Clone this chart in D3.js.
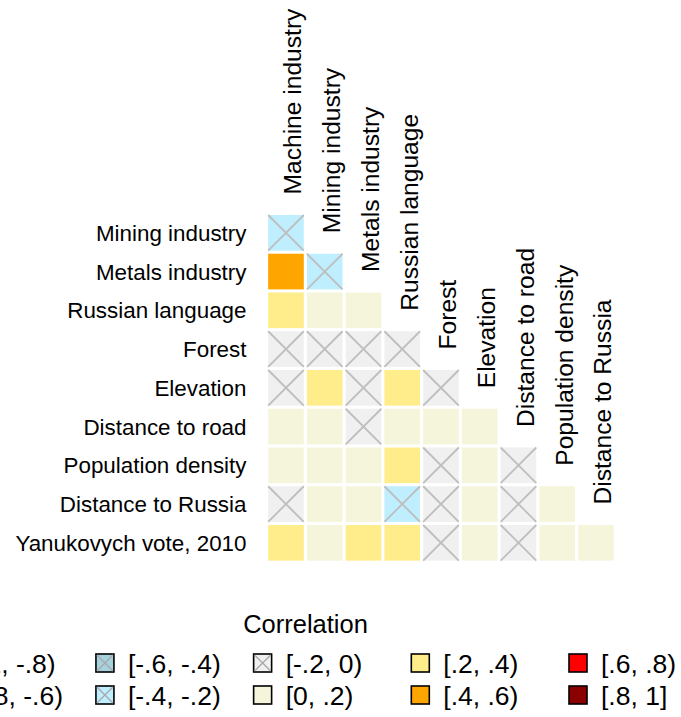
<!DOCTYPE html>
<html lang="en">
<head>
  <meta charset="utf-8">
  <title>Correlation matrix</title>
  <script src="https://d3js.org/d3.v7.min.js"></script>
  <style>
    body { margin: 0; background: #fff; }
    .chart text { font-family: "Liberation Sans", Arial, sans-serif; fill: #000; }
  </style>
</head>
<body>
  <div class="chart" id="chart"></div>

  <script>
    "use strict"

    // variables, columns along the top and rows down the side
    var cols = ["Machine industry", "Mining industry", "Metals industry", "Russian language",
                "Forest", "Elevation", "Distance to road", "Population density", "Distance to Russia"];
    var rows = ["Mining industry", "Metals industry", "Russian language", "Forest", "Elevation",
                "Distance to road", "Population density", "Distance to Russia", "Yanukovych vote, 2010"];

    // lower triangle of the correlations (row i has i+1 values), estimated from the bins
    var corr = [
      [-0.30],
      [ 0.50, -0.30],
      [ 0.30,  0.10,  0.10],
      [-0.10, -0.10, -0.10, -0.10],
      [-0.10,  0.30, -0.10,  0.30, -0.10],
      [ 0.10,  0.10, -0.10,  0.10,  0.10,  0.10],
      [ 0.10,  0.10,  0.10,  0.30, -0.10,  0.10, -0.10],
      [-0.10,  0.10,  0.10, -0.30, -0.10,  0.10, -0.10,  0.10],
      [ 0.30,  0.10,  0.30,  0.30, -0.10,  0.10, -0.10,  0.10,  0.10]
    ];

    // colour bins
    var binEdges  = [-0.8, -0.6, -0.4, -0.2, 0, 0.2, 0.4, 0.6, 0.8];
    var binLabels = ["[-1, -.8)", "[-.8, -.6)", "[-.6, -.4)", "[-.4, -.2)", "[-.2, 0)",
                     "[0, .2)", "[.2, .4)", "[.4, .6)", "[.6, .8)", "[.8, 1]"];
    var binColors = ["#00008B", "#1E90FF", "#A6D2DE", "#BFEFFF", "#F0F0F0",
                     "#F5F5DC", "#FFEC8B", "#FFA500", "#FF0000", "#8B0000"];

    var W = 681, H = 717;
    var svg = d3.select("#chart").append("svg")
      .attr("width", W).attr("height", H);

    var color = d3.scaleThreshold().domain(binEdges).range(binColors);

    var x = d3.scaleBand().domain(cols).range([266.6, 615.35])
      .paddingInner(0.08).paddingOuter(0.04);
    var y = d3.scaleBand().domain(rows).range([213.45, 562.2])
      .paddingInner(0.08).paddingOuter(0.04);

    var cells = [];
    corr.forEach(function(r, i) {
      r.forEach(function(v, j) { cells.push({row: rows[i], col: cols[j], v: v}); });
    });

    var g = svg.append("g");
    var cell = g.selectAll("g.cell").data(cells).enter().append("g").attr("class", "cell");
    cell.append("rect")
      .attr("x", d => x(d.col)).attr("y", d => y(d.row))
      .attr("width", x.bandwidth()).attr("height", y.bandwidth())
      .attr("fill", d => color(d.v));
    // negative correlations get crossed out
    var neg = cell.filter(d => d.v < 0);
    neg.append("path")
      .attr("d", function(d) {
        var x0 = x(d.col), y0 = y(d.row), w = x.bandwidth(), h = y.bandwidth();
        return "M" + x0 + "," + y0 + "L" + (x0 + w) + "," + (y0 + h) +
               "M" + (x0 + w) + "," + y0 + "L" + x0 + "," + (y0 + h);
      })
      .attr("stroke", "#BEBEBE").attr("stroke-width", 1.8).attr("fill", "none");

    // row labels
    svg.selectAll("text.row").data(rows).enter().append("text")
      .attr("class", "row")
      .attr("x", 246.5)
      .attr("y", d => y(d) + y.bandwidth() / 2)
      .attr("dy", "0.36em")
      .attr("text-anchor", "end")
      .style("font-size", "22.4px")
      .text(d => d);

    // column labels, rotated, starting just above their first cell
    svg.selectAll("text.col").data(cols).enter().append("text")
      .attr("class", "col")
      .attr("transform", function(d, i) {
        var cx = x(d) + x.bandwidth() / 2 + 15.3;
        var by = y(rows[i]) - 20.5;
        return "translate(" + cx + "," + by + ") rotate(-90)";
      })
      .attr("text-anchor", "start")
      .style("font-size", "24.6px")
      .text(d => d);

    // legend
    svg.append("text")
      .attr("x", 305.5).attr("y", 633)
      .attr("text-anchor", "middle")
      .style("font-size", "25.5px")
      .text("Correlation");

    var lx = d3.scaleLinear().domain([0, 4]).range([-61.75, 569]);
    var ly = d3.scaleLinear().domain([0, 1]).range([663, 695]);
    var ks = 18;
    var leg = svg.selectAll("g.key").data(binLabels).enter().append("g")
      .attr("class", "key")
      .attr("transform", (d, i) => "translate(" + lx(Math.floor(i / 2)) + "," + ly(i % 2) + ")");
    leg.append("rect")
      .attr("x", 0).attr("y", -ks / 2).attr("width", ks).attr("height", ks)
      .attr("fill", (d, i) => binColors[i])
      .attr("stroke", "#000").attr("stroke-width", 1.6);
    leg.filter((d, i) => i < 5).append("path")
      .attr("d", "M1,"+(1 - ks/2)+"L"+(ks-1)+","+(ks/2-1)+"M"+(ks-1)+","+(1-ks/2)+"L1,"+(ks/2-1))
      .attr("stroke", "#A8A8A8").attr("stroke-width", 1.3);
    leg.append("text")
      .attr("x", 32).attr("y", 0).attr("dy", "0.37em")
      .style("font-size", "26.5px")
      .text(d => d);
  </script>
</body>
</html>
